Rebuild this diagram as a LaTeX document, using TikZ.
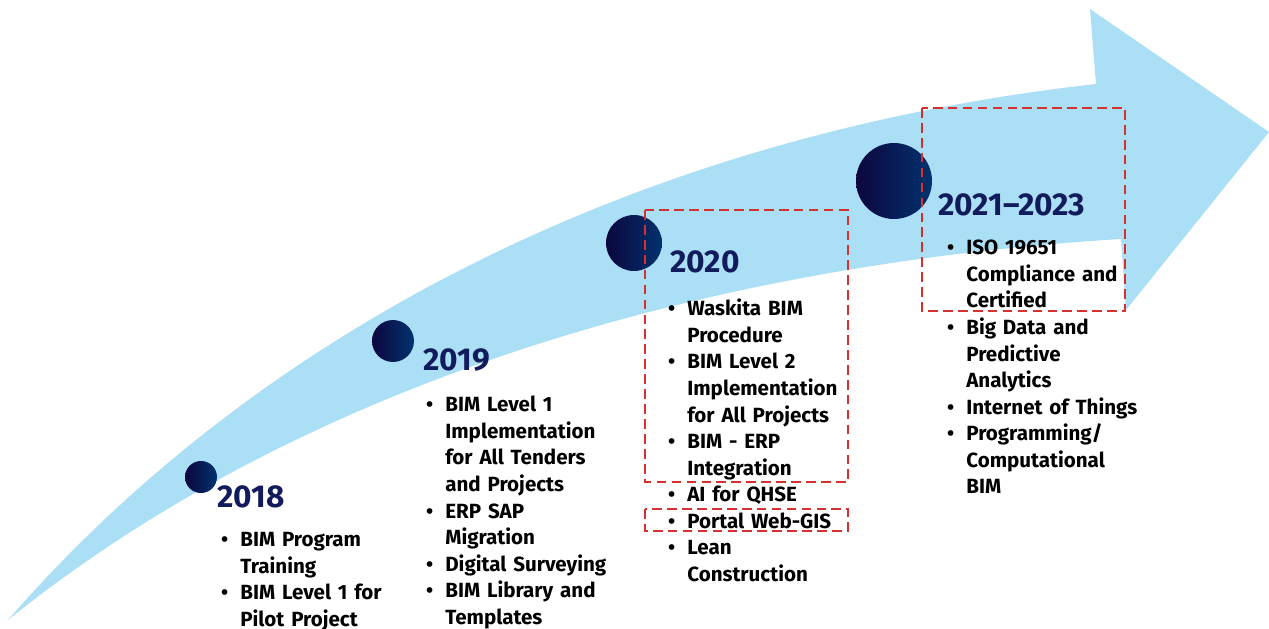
\documentclass[tikz,border=0pt]{standalone}
\usepackage{fontspec}
\setmainfont{Fira Sans}
\usetikzlibrary{positioning}
\definecolor{arrowblue}{RGB}{170,223,246}
\definecolor{navyA}{RGB}{12,6,62}
\definecolor{navyB}{RGB}{2,50,110}
\definecolor{navyT}{RGB}{18,28,92}
\definecolor{boxred}{RGB}{214,48,48}
\newcommand{\bitem}{\par\hangindent=0.36cm\hangafter=0\noindent\llap{\textbullet\hspace{0.24cm}}}
\newcommand{\bend}{\par}

\begin{document}
\begin{tikzpicture}[x=0.02cm,y=-0.02cm,
  dot/.style={circle,inner sep=0,left color=navyA,right color=navyB},
  year/.style={anchor=base west,inner sep=0,text=navyT,font=\fontsize{18}{20}\selectfont\bfseries},
  items/.style={anchor=north west,inner sep=0,text width=4.2cm,font=\fontsize{11.7}{15.1}\selectfont\bfseries\raggedright},
  redbox/.style={draw=boxred,line width=1.5pt,dash pattern=on 5.5pt off 3pt}]
\useasboundingbox (0,0) rectangle (1269,629);
% the big arrow
\fill[arrowblue] (8,620) .. controls (260,330) and (640,135) .. (1096,84) -- (1090,9) -- (1269,132)
  -- (1126,310) -- (1121,239) .. controls (700,265) and (300,385) .. cycle;
% milestones
\node[dot,minimum size=0.64cm] (c18) at (201,477) {};
\node[dot,minimum size=0.84cm] (c19) at (393,341) {};
\node[dot,minimum size=1.12cm] (c20) at (634,243) {};
\node[dot,minimum size=1.52cm] (c21) at (894,181) {};
\node[year] (y18) at (217,507) {2018};
\node[year] (y19) at (423,370) {2019};
\node[year] (y20) at (670,272) {2020};
\node[year] (y21) at (938,215) {2021\textendash2023};
% lists
\node[items] (l18) at (222,520) {\bitem BIM Program\newline Training
  \bitem BIM Level 1 for\newline Pilot Project\bend};
\node[items] (l19) at (427,385) {\bitem BIM Level 1\newline Implementation\newline for All Tenders\newline and Projects
  \bitem ERP SAP\newline Migration \bitem Digital Surveying \bitem BIM Library and\newline Templates\bend};
\node[items] (l20) at (669,289) {\bitem Waskita BIM\newline Procedure \bitem BIM Level 2\newline Implementation\newline for All Projects
  \bitem BIM - ERP\newline Integration \bitem AI for QHSE \bitem Portal Web-GIS \bitem Lean\newline Construction\bend};
\node[items] (l21) at (948,228) {\bitem ISO 19651\newline Compliance and\newline Certified \bitem Big Data and\newline Predictive\newline Analytics
  \bitem Internet of Things \bitem Programming/\newline Computational\newline BIM\bend};
% highlighted items
\draw[redbox] (645,210) rectangle (848,482);
\draw[redbox] (645,509) rectangle (848,531);
\draw[redbox] (922,108) rectangle (1125,311);
\end{tikzpicture}
\end{document}
